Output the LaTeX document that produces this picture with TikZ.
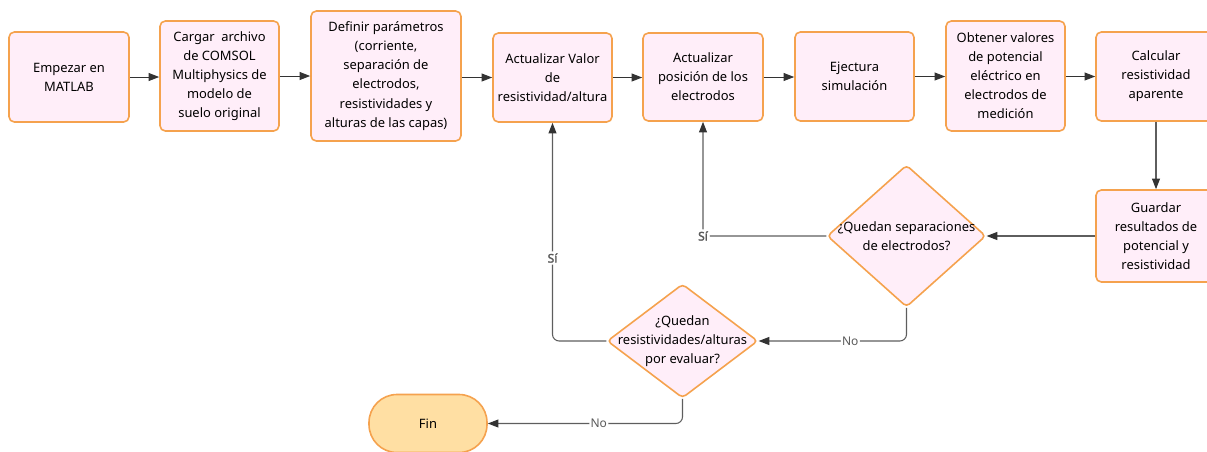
\documentclass[tikz,border=0pt]{standalone}
\usepackage{fontspec}
\setmainfont{Noto Sans}[AutoFakeBold=2]
\usetikzlibrary{arrows.meta,shapes.geometric}
\definecolor{boxfill}{HTML}{FFEEF9}
\definecolor{boxdraw}{HTML}{F5A24E}
\definecolor{finfill}{HTML}{FFDFA3}
\definecolor{arrowc}{HTML}{333333}
\definecolor{linec}{HTML}{5E5E5E}
\definecolor{labc}{HTML}{5A5A5A}
\begin{document}
\begin{tikzpicture}[x=0.75pt,y=-0.75pt,
  every node/.style={font=\fontsize{9.7pt}{14.3pt}\selectfont},
  proc/.style={draw=boxdraw, fill=boxfill, line width=1.2pt, rounded corners=4pt,
    align=center, inner sep=0pt},
  dec/.style={diamond, draw=boxdraw, fill=boxfill, line width=1.2pt, rounded corners=3pt,
    align=center, inner sep=-20pt},
  term/.style={draw=boxdraw, fill=finfill, line width=1.2pt, rounded corners=21pt,
    align=center, inner sep=0pt},
  arr/.style={draw=arrowc, line width=0.75pt, -{Triangle[length=8pt,width=6pt]}},
  arrg/.style={draw=linec, line width=0.8pt, rounded corners=5pt, -{Triangle[length=8pt,width=6pt,color=arrowc]}},
  silab/.style={fill=white, text=labc, font=\bfseries\fontsize{9pt}{11pt}\selectfont, inner sep=1.5pt},
  nolab/.style={fill=white, text=labc, font=\fontsize{9pt}{11pt}\selectfont, inner sep=1pt}
]
\useasboundingbox (0,0) rectangle (1207,451);

\node[proc, minimum width=90pt, minimum height=67.5pt] (b1) at (69,77) {Empezar en\\MATLAB};
\node[proc, minimum width=89.25pt, minimum height=82.5pt] (b2) at (219.5,76) {Cargar\ \ archivo\\de COMSOL\\Multiphysics de\\modelo de\\suelo original};
\node[proc, minimum width=112.5pt, minimum height=97.5pt] (b3) at (386,76) {Definir parámetros\\(corriente,\\separación de\\electrodos,\\resistividades y\\alturas de las capas)};
\node[proc, minimum width=89.25pt, minimum height=66.75pt] (b4) at (552.5,77.5) {Actualizar Valor\\de\\resistividad/altura};
\node[proc, minimum width=90pt, minimum height=66pt] (b5) at (703,77) {Actualizar\\posición de los\\electrodos};
\node[proc, minimum width=89.25pt, minimum height=66.75pt] (b6) at (854.5,76.5) {Ejectura\\simulación};
\node[proc, minimum width=89.25pt, minimum height=82.5pt] (b7) at (1005.5,76) {Obtener valores\\de potencial\\eléctrico en\\electrodos de\\medición};
\node[proc, minimum width=90pt, minimum height=66.75pt] (b8) at (1156,76.5) {Calcular\\resistividad\\aparente};
\node[proc, minimum width=90pt, minimum height=69pt] (b9) at (1156,236) {Guardar\\resultados de\\potencial y\\resistividad};
\node[dec, minimum width=119pt, minimum height=106.5pt] (d1) at (906.5,236) {¿Quedan separaciones\\de electrodos?};
\node[dec, minimum width=113pt, minimum height=85.5pt] (d2) at (682.5,341) {¿Quedan\\resistividades/alturas\\por evaluar?};
\node[term, minimum width=88.5pt, minimum height=43.5pt] (fin) at (428,423.5) {Fin};

\draw[arr] (b1.east) -- (b1.east -| b2.west);
\draw[arr] (b2.east) -- (b2.east -| b3.west);
\draw[arr] (b3.east |- b4.west) -- (b4.west);
\draw[arr] (b4.east) -- (b4.east -| b5.west);
\draw[arr] (b5.east) -- (b5.east -| b6.west);
\draw[arr] (b6.east) -- (b6.east -| b7.west);
\draw[arr] (b7.east |- b8.west) -- (b8.west);
\draw[arrg] (b8.south) -- (b9.north);
\draw[arrg] (b9.west) -- (d1.east);
\draw[arrg] (d1.west) -| node[silab, pos=0.5] {Sí} (b5.south);
\draw[arrg] (d1.south) |- node[nolab, pos=0.69] {No} (d2.east);
\draw[arrg] (d2.west) -| node[silab, pos=0.69] {Sí} (b4.south);
\draw[arrg] (d2.south) |- node[nolab, pos=0.715] {No} (fin.east);
\end{tikzpicture}
\end{document}
